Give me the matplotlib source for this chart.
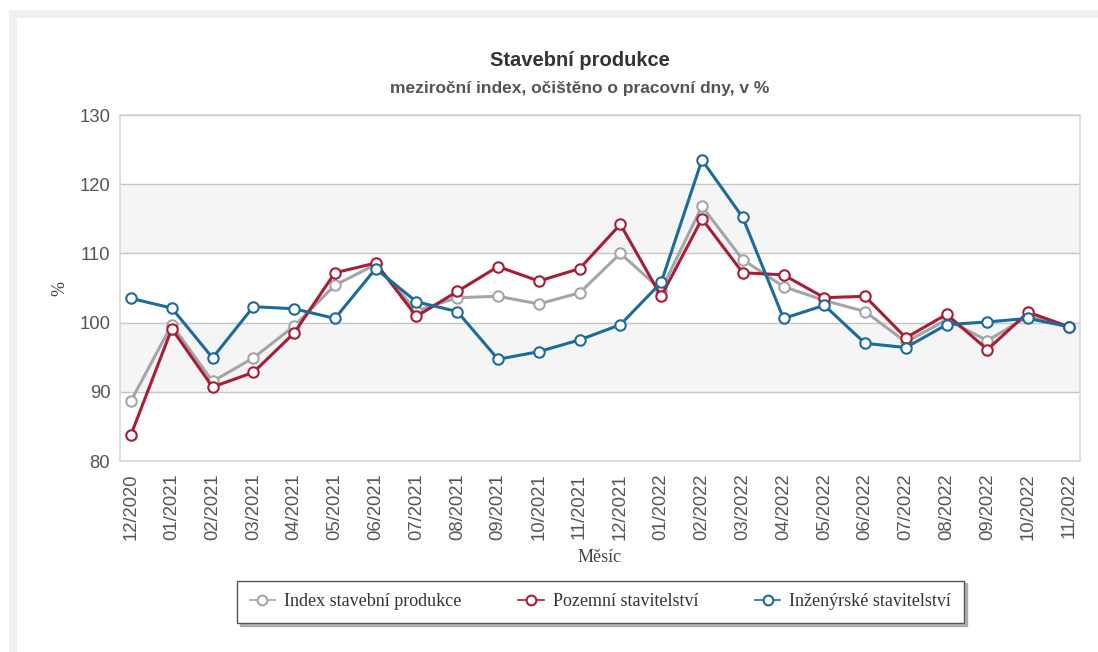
import matplotlib
matplotlib.use("Agg")
import matplotlib.pyplot as plt
from matplotlib.patches import Rectangle
import numpy as np

months = ["12/2020", "01/2021", "02/2021", "03/2021", "04/2021", "05/2021", "06/2021",
          "07/2021", "08/2021", "09/2021", "10/2021", "11/2021", "12/2021", "01/2022",
          "02/2022", "03/2022", "04/2022", "05/2022", "06/2022", "07/2022", "08/2022",
          "09/2022", "10/2022", "11/2022"]
index_total = [88.7, 99.7, 91.5, 94.9, 99.5, 105.4, 108.4, 101.7, 103.6, 103.8, 102.7, 104.3,
               110.0, 104.7, 116.8, 109.1, 105.2, 103.2, 101.6, 97.2, 100.4, 97.4, 100.9, 99.4]
pozemni = [83.8, 99.1, 90.7, 92.8, 98.5, 107.2, 108.6, 100.9, 104.5, 108.1, 106.0, 107.8,
           114.2, 103.8, 115.0, 107.2, 106.9, 103.6, 103.8, 97.8, 101.2, 96.1, 101.5, 99.4]
inzenyrske = [103.5, 102.1, 94.9, 102.3, 102.0, 100.6, 107.8, 103.0, 101.6, 94.7, 95.8, 97.5,
              99.7, 105.8, 123.5, 115.2, 100.6, 102.5, 97.0, 96.4, 99.7, 100.1, 100.6, 99.4]
series_names = ["Index stavební produkce", "Pozemní stavitelství", "Inženýrské stavitelství"]
y_ticks = [80, 90, 100, 110, 120, 130]

colors = ["#a3a6a8", "#a81d34", "#1b6b9b"]

W, H = 1098, 652
fig = plt.figure(figsize=(W / 100, H / 100), dpi=100)
fig.patch.set_facecolor("white")
# outer frame
fig.add_artist(Rectangle((9 / W, 0), 1, 1 - 10 / H, transform=fig.transFigure,
                         facecolor="#f0f0f0", edgecolor="none", zorder=-10))
fig.add_artist(Rectangle((17 / W, 0), 1, 1 - 18 / H, transform=fig.transFigure,
                         facecolor="white", edgecolor="none", zorder=-9))

ax = fig.add_axes([120 / W, 1 - 461 / H, 960 / W, 346 / H])
x = np.arange(len(months))

# alternating bands
for lo in [90, 110]:
    ax.axhspan(lo, lo + 10, color="#f5f5f5", zorder=0, lw=0)
for yv in y_ticks:
    ax.axhline(yv, color="#c6c6c6", lw=1.0, zorder=1)

for vals, c, name in zip([index_total, pozemni, inzenyrske], colors, series_names):
    ax.plot(x, vals, color=c, lw=2.2, marker="o", markersize=7.5,
            markerfacecolor="white", markeredgecolor=c, markeredgewidth=1.5,
            label=name, zorder=3)

ax.set_ylim(80, 130)
ax.set_xlim(-0.27, 23.27)
ax.set_yticks(y_ticks)
ax.set_xticks(x)
ax.set_xticklabels(months, rotation=90)
for s in ax.spines.values():
    s.set_color("#d6d6d6")
    s.set_linewidth(1.2)
ax.tick_params(axis="both", length=0, labelsize=13.3, labelcolor="#555555")
ax.tick_params(axis="y", pad=7)
ax.tick_params(axis="x", pad=9)
for lab in ax.get_xticklabels() + ax.get_yticklabels():
    lab.set_fontfamily("Liberation Sans")

ax.set_xlabel("Měsíc", family="Liberation Serif", fontsize=13, color="#444444", labelpad=6)
ax.set_ylabel("%", family="Liberation Serif", fontsize=13, color="#444444", labelpad=8)

fig.text(580 / W, 1 - 60 / H, "Stavební produkce", ha="center", va="center",
         family="Liberation Sans", fontweight="bold", fontsize=14.5, color="#333333")
fig.text(580 / W, 1 - 88 / H, "meziroční index, očištěno o pracovní dny, v %", ha="center",
         va="center", family="Liberation Sans", fontweight="bold", fontsize=12.5, color="#555555")

leg = fig.legend(loc="lower left", bbox_to_anchor=(228 / W, 1 - 632 / H, 745 / W, 45 / H),
                 mode="expand", ncol=3, frameon=True, fancybox=False,
                 shadow={"color": "#888888", "alpha": 0.6},
                 prop={"family": "Liberation Serif", "size": 13},
                 handlelength=1.4, handletextpad=0.5, borderpad=0.7)
leg.get_frame().set_edgecolor("#555555")
leg.get_frame().set_linewidth(1.0)
for t in leg.get_texts():
    t.set_color("#333333")
for h in leg.legend_handles:
    h.set_linewidth(1.2)
    h.set_markersize(7)

fig.savefig("out.png", dpi=100)
